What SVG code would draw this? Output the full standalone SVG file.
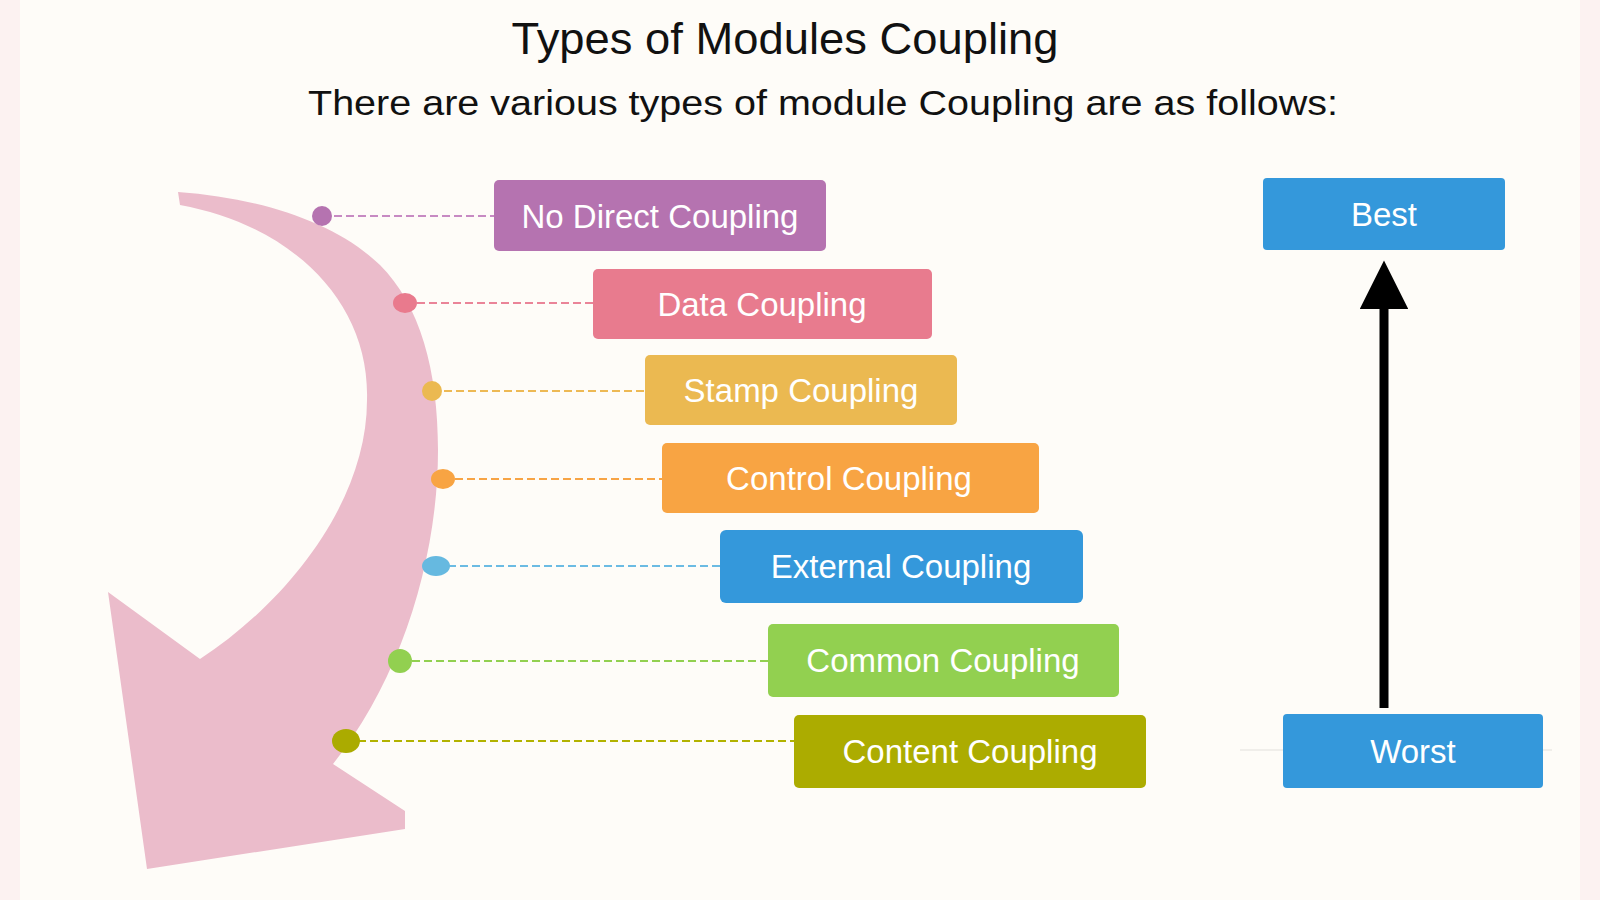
<svg xmlns="http://www.w3.org/2000/svg" width="1600" height="900" viewBox="0 0 1600 900">
<defs>
<style>
.box-text{font-family:"Liberation Sans",Arial,sans-serif;font-size:33px;fill:#FFFFFF;text-anchor:middle}
.title{font-family:"Liberation Sans",Arial,sans-serif;fill:#111111;text-anchor:middle}
.dash{stroke-width:1.8;stroke-dasharray:8 4;fill:none}
</style>
<marker id="blackHead" viewBox="0 0 10 10" refX="0" refY="5" markerWidth="5.4" markerHeight="5.4" markerUnits="strokeWidth" orient="auto">
<path d="M0,0 L10,5 L0,10 Z" fill="#000000"/>
</marker>
</defs>
<rect x="0" y="0" width="1600" height="900" fill="#FCF2F1"/>
<rect x="20" y="0" width="1560" height="900" fill="#FEFCF8"/>
<g id="title">
<text class="title" x="785" y="54" font-size="44" textLength="547" lengthAdjust="spacingAndGlyphs">Types of Modules Coupling</text>
<text class="title" x="823" y="115" font-size="35" textLength="1030" lengthAdjust="spacingAndGlyphs">There are various types of module Coupling are as follows:</text>
</g>
<g id="curved-arrow">
<path d="M178,192 C260,198 335,222 380,265 C420,305 438,370 438,450 C438,560 400,680 333,764 L405,811 L405,829 L147,869 L108,592 L200,659 C290,600 367,500 367,400 C370,300 290,225 180,205 Z" fill="#EBBCCB"/>
</g>
<g id="connectors">
<line class="dash" x1="322" y1="216" x2="494" y2="216" stroke="#C78AC3"/>
<line class="dash" x1="405" y1="303" x2="593" y2="303" stroke="#EA8498"/>
<line class="dash" x1="432" y1="391" x2="645" y2="391" stroke="#EDB955"/>
<line class="dash" x1="443" y1="479" x2="662" y2="479" stroke="#F7A445"/>
<line class="dash" x1="436" y1="566" x2="720" y2="566" stroke="#6BBBE3"/>
<line class="dash" x1="400" y1="661" x2="768" y2="661" stroke="#92D050"/>
<line class="dash" x1="346" y1="741" x2="794" y2="741" stroke="#B2B200"/>
<ellipse cx="322" cy="216" rx="10" ry="10" fill="#B573B0"/>
<ellipse cx="405" cy="303" rx="12" ry="10" fill="#E97A8D"/>
<ellipse cx="432" cy="391" rx="10" ry="10" fill="#EBB951"/>
<ellipse cx="443" cy="479" rx="12" ry="10" fill="#F8A443"/>
<ellipse cx="436" cy="566" rx="14" ry="10" fill="#66B9E0"/>
<ellipse cx="400" cy="661" rx="12" ry="12" fill="#92D050"/>
<ellipse cx="346" cy="741" rx="14" ry="12" fill="#ABAB00"/>
<line x1="1240" y1="750" x2="1552" y2="750" stroke="#E2E0DC" stroke-width="1.2"/>
<line x1="1384" y1="708" x2="1384" y2="309" stroke="#000000" stroke-width="9" marker-end="url(#blackHead)"/>
</g>
<g id="node-no-direct">
<rect x="494" y="180" width="332" height="71" rx="5" fill="#B573B0"/>
<text class="box-text" x="660" y="228">No Direct Coupling</text>
</g>
<g id="node-data">
<rect x="593" y="269" width="339" height="70" rx="5" fill="#E87B8E"/>
<text class="box-text" x="762" y="316">Data Coupling</text>
</g>
<g id="node-stamp">
<rect x="645" y="355" width="312" height="70" rx="5" fill="#EBB951"/>
<text class="box-text" x="801" y="402">Stamp Coupling</text>
</g>
<g id="node-control">
<rect x="662" y="443" width="377" height="70" rx="5" fill="#F8A443"/>
<text class="box-text" x="849" y="490">Control Coupling</text>
</g>
<g id="node-external">
<rect x="720" y="530" width="363" height="73" rx="6" fill="#3498DB"/>
<text class="box-text" x="901" y="578">External Coupling</text>
</g>
<g id="node-common">
<rect x="768" y="624" width="351" height="73" rx="5" fill="#92D050"/>
<text class="box-text" x="943" y="672">Common Coupling</text>
</g>
<g id="node-content">
<rect x="794" y="715" width="352" height="73" rx="5" fill="#ACAC00"/>
<text class="box-text" x="970" y="763">Content Coupling</text>
</g>
<g id="node-best">
<rect x="1263" y="178" width="242" height="72" rx="4" fill="#3498DB"/>
<text class="box-text" x="1384" y="226">Best</text>
</g>
<g id="node-worst">
<rect x="1283" y="714" width="260" height="74" rx="4" fill="#3498DB"/>
<text class="box-text" x="1413" y="763">Worst</text>
</g>
</svg>
